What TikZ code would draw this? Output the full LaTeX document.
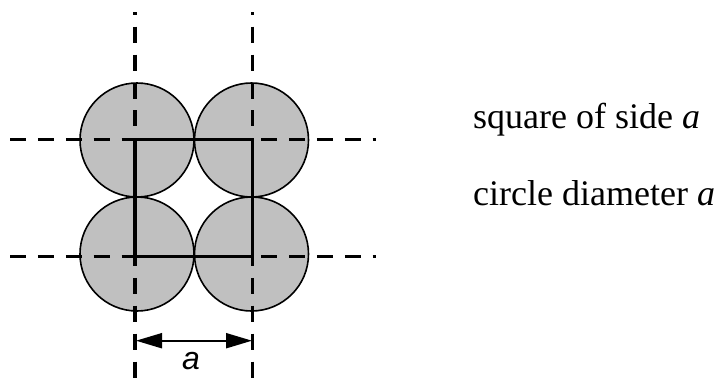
\documentclass[tikz,border=0pt]{standalone}
\usepackage{fontspec}
\setmainfont{Liberation Serif}
\newfontfamily\labelsans{Liberation Sans}
\usetikzlibrary{arrows.meta}
\begin{document}
\begin{tikzpicture}[x=1pt,y=-1pt,
  ball/.style={draw=black,line width=1.6pt,fill={rgb,255:red,192;green,192;blue,192}},
  vdash/.style={line width=3.5pt,dash pattern=on 16pt off 11.9pt,dash phase=13.2pt},
  hdash/.style={line width=3.5pt,dash pattern=on 16pt off 11.9pt},
  sqline/.style={line width=3.3pt,line join=miter},
  dimarrow/.style={line width=2pt,{Triangle[length=26pt,width=15pt]}-{Triangle[length=26pt,width=15pt]}},
  txt/.style={font=\fontsize{36}{40}\selectfont,anchor=base west,inner sep=0pt},
  dimtxt/.style={font=\labelsans\itshape\fontsize{32}{36}\selectfont,anchor=base,inner sep=0pt}]
\useasboundingbox (0,0) rectangle (726,378);
% circles
\node[ball,circle,minimum size=114pt,inner sep=0pt] (c1) at (137,140) {};
\node[ball,circle,minimum size=114pt,inner sep=0pt] (c2) at (251.5,140) {};
\node[ball,circle,minimum size=114pt,inner sep=0pt] (c3) at (137,254) {};
\node[ball,circle,minimum size=114pt,inner sep=0pt] (c4) at (251.5,254) {};
% dashed guide lines
\coordinate (vt1) at (135,12);   \coordinate (vb1) at (135,378);
\coordinate (vt2) at (252.5,12); \coordinate (vb2) at (252.5,378);
\coordinate (hl1) at (10,139.5); \coordinate (hr1) at (376,139.5);
\coordinate (hl2) at (10,256.5); \coordinate (hr2) at (376,256.5);
\draw[vdash] (vt1) -- (vb1);
\draw[vdash] (vt2) -- (vb2);
\draw[hdash] (hl1) -- (hr1);
\draw[hdash] (hl2) -- (hr2);
% square
\coordinate (s1) at (135,139.5);
\coordinate (s2) at (252.5,139.5);
\coordinate (s3) at (252.5,256.5);
\coordinate (s4) at (135,256.5);
\draw[sqline] (s1) -- (s2) -- (s3) -- (s4) -- cycle;
% dimension
\coordinate (al) at (136,340.7);
\coordinate (ar) at (252,340.7);
\draw[dimarrow] (al) -- (ar);
\node[dimtxt] (alab) at (191,369) {a};
% texts
\node[txt] (t1) at (473,128.3) {square of side \textit{a}};
\node[txt] (t2) at (473,205) {circle diameter \textit{a}};
\end{tikzpicture}
\end{document}
